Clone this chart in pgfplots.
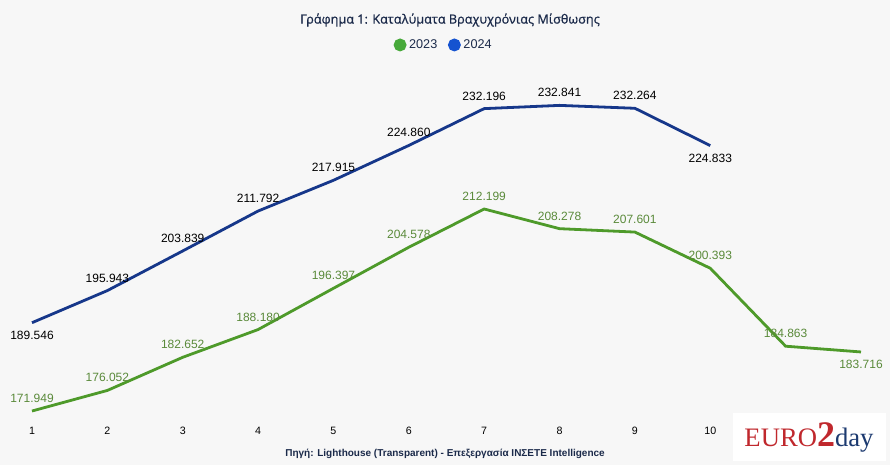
\documentclass[border=0pt]{standalone}
\usepackage{pgfplots}
\usepackage{pgfplotstable}
\pgfplotsset{compat=1.18}
\usepackage{fontspec}
\setmainfont{Liberation Sans}
\newfontfamily\titlefont[FakeBold=0.8]{Open Sans}
\newfontfamily\logofont{Liberation Serif}
\definecolor{gline}{HTML}{4E9A2A}
\definecolor{gtext}{HTML}{5A8A3A}
\definecolor{bline}{HTML}{16378A}
\definecolor{gdot}{HTML}{47A93A}
\definecolor{bdot}{HTML}{1553D0}
\definecolor{navy}{HTML}{1B2A4A}
\definecolor{bg}{HTML}{F7F7F7}
\definecolor{logored}{HTML}{C0282D}
\definecolor{logoblue}{HTML}{1C3A70}

\pgfplotstableread{
x y lab pos
1 171.949 171.949 1
2 176.052 176.052 1
3 182.652 182.652 1
4 188.180 188.180 1
5 196.397 196.397 1
6 204.578 204.578 1
7 212.199 212.199 1
8 208.278 208.278 1
9 207.601 207.601 1
10 200.393 200.393 1
11 184.863 184.863 1
12 183.716 183.716 -1
}\greendata

\pgfplotstableread{
x y lab pos
1 189.546 189.546 -1
2 195.943 195.943 1
3 203.839 203.839 1
4 211.792 211.792 1
5 217.915 217.915 1
6 224.860 224.860 1
7 232.196 232.196 1
8 232.841 232.841 1
9 232.264 232.264 1
10 224.833 224.833 -1
}\bluedata

\begin{document}
\begin{tikzpicture}
\fill[bg] (0,0) rectangle (667.5pt,-348.75pt);
\begin{axis}[
  at={(24pt,-315.6pt)}, anchor=south west,
  scale only axis, width=621.75pt, height=244.7pt,
  xmin=1, xmax=12, ymin=170, ymax=235,
  clip=false,
  axis x line*=bottom, axis y line=none,
  x axis line style={draw=none},
  xtick={1,...,10}, ytick=\empty,
  major tick length=0pt,
  /pgf/number format/assume math mode=true,
  tick label style={font=\fontsize{8}{9}\selectfont, text=black},
  xticklabel style={yshift=-1pt},
  point meta=explicit symbolic,
  nodes near coords,
  visualization depends on={\thisrow{pos} \as \pos},
  nodes near coords style={font=\fontsize{9}{10}\selectfont, anchor=center, yshift=\pos*9.5pt},
  legend columns=2,
  legend style={draw=none, fill=none, at={(axis description cs:0.497,1.152)}, anchor=center,
    font=\fontsize{9.5}{11}\selectfont\color{navy}, column sep=0pt, inner sep=0pt,
    cells={inner sep=0.5pt},
    /tikz/every even column/.append style={column sep=6pt}},
  legend image code/.code={\fill (0,0) circle (3.75pt);},
]
\addplot[gline, line width=2.1pt, nodes near coords style={text=gtext}, legend image post style={gdot}] table[x=x, y=y, meta=lab] {\greendata};
\addlegendentry{2023}
\addplot[bline, line width=2.1pt, nodes near coords style={text=black}, legend image post style={bdot}] table[x=x, y=y, meta=lab] {\bluedata};
\addlegendentry{2024}
\end{axis}
\begin{scope}[x=0.75pt,y=-0.75pt]
\node[font=\titlefont\fontsize{9.5}{11}\selectfont, text=navy] at (450,20) {Γράφημα 1: Καταλύματα Βραχυχρόνιας Μίσθωσης};
\node[font=\bfseries\fontsize{7.5}{9}\selectfont, text=navy] at (445,454) {Πηγή: Lighthouse (Transparent) - Επεξεργασία ΙΝΣΕΤΕ Intelligence};
\fill[white] (733,413) rectangle (886,461);
\node[font=\logofont\fontsize{20}{21}\selectfont, inner sep=0pt] at (809,437)
  {\textcolor{logored}{EURO}\textcolor{logored}{\fontsize{27}{27}\selectfont\bfseries 2}\textcolor{logoblue}{day}};
\end{scope}
\end{tikzpicture}
\end{document}
